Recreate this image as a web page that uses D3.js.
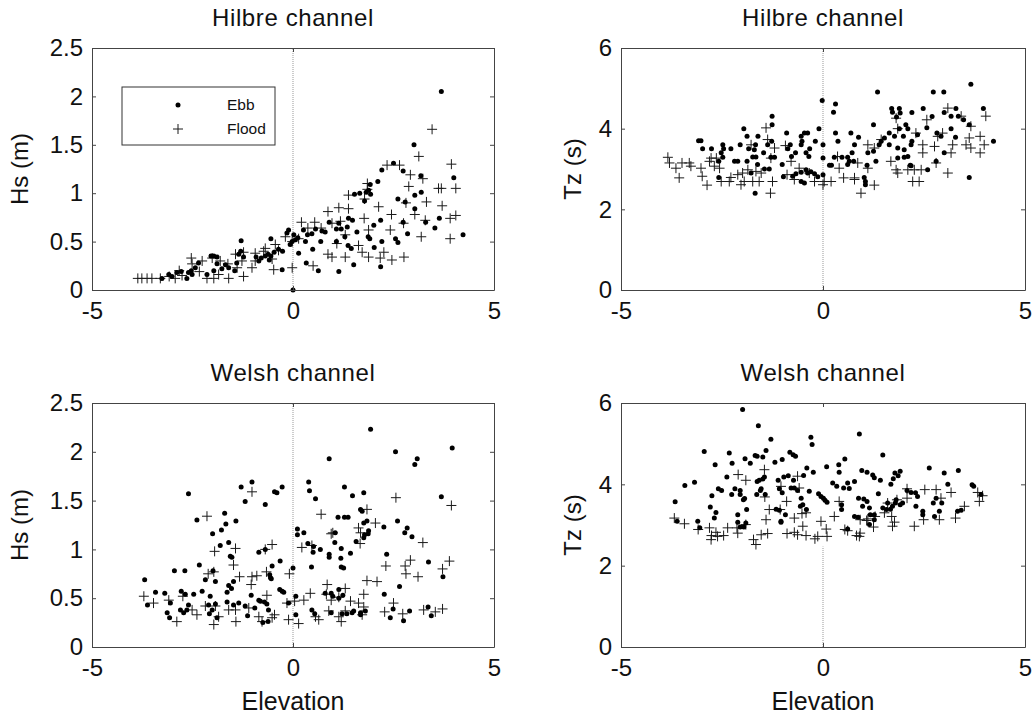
<html>
<head>
<meta charset="utf-8">
<script src="https://d3js.org/d3.v7.min.js"></script>
<style>
  body { margin: 0; background: #fff; }
  text { font-family: "Liberation Sans", Arial, sans-serif; fill: #111; }
</style>
</head>
<body>
<svg id="chart" width="1036" height="719"></svg>
<script>
// axis ticks and texts
const xTicks = [-5, 0, 5];
const hsTicks = [0, 0.5, 1, 1.5, 2, 2.5];
const tzTicks = [0, 2, 4, 6];
const titles = ["Hilbre channel", "Hilbre channel", "Welsh channel", "Welsh channel"];
const yLabels = ["Hs (m)", "Tz (s)", "Hs (m)", "Tz (s)"];
const xLabel = "Elevation";
const legendLabels = ["Ebb", "Flood"];

// [elevation, value]
const hilbreHsEbb = [
  [3.69,2.05],[3.01,1.50],[2.50,1.31],[2.21,1.24],[2.74,1.23],[3.18,1.18],[4.00,1.16],[2.11,1.12],
  [1.92,1.09],[1.88,1.03],[1.82,1.01],[1.93,0.99],[1.78,0.92],[1.66,1.00],[1.53,0.99],
  [3.03,0.98],[3.19,1.01],[2.61,0.94],[2.79,0.91],[3.03,0.84],[3.64,0.74],[3.53,0.64],[3.30,0.70],
  [2.85,0.58],[2.74,0.70],[2.55,0.53],[2.61,0.49],[4.23,0.57],[2.18,0.72],[2.21,0.50],[2.01,0.67],
  [1.87,0.55],[1.91,0.53],[2.02,0.44],[2.18,0.24],
  [1.48,0.72],[1.38,0.74],[1.59,0.60],[1.35,0.65],[1.29,0.55],[1.45,0.43],[1.37,0.46],[1.14,0.69],
  [1.08,0.63],[1.20,0.63],[1.08,0.50],[0.90,0.70],[0.80,0.60],[0.72,0.61],[0.69,0.50],[0.49,0.42],
  [0.31,0.50],[0.26,0.62],[0.36,0.57],[0.47,0.58],[0.56,0.63],[0.14,0.38],[0.33,0.28],[0.63,0.20],
  [1.14,0.19],[1.51,0.26],
  [-0.11,0.62],[-0.15,0.59],[-0.02,0.50],[0.02,0.57],[0.06,0.52],[0.12,0.54],[-0.07,0.47],
  [-0.26,0.40],[-0.36,0.42],[-0.47,0.39],[-0.55,0.35],[-0.59,0.31],[-0.69,0.35],[-0.62,0.37],
  [-0.79,0.33],[-0.85,0.30],[-0.92,0.34],[-0.55,0.53],[-1.29,0.51],
  [-1.30,0.40],[-1.35,0.37],[-1.23,0.34],[-1.40,0.28],[-1.45,0.20],[-1.60,0.23],[-1.68,0.26],
  [-1.77,0.22],[-1.89,0.27],[-1.97,0.20],[-2.04,0.35],[-1.97,0.35],[-1.89,0.34],
  [-2.35,0.28],[-2.43,0.23],[-2.53,0.20],[-2.60,0.18],[-2.51,0.16],[-2.64,0.12],[-2.78,0.19],
  [-2.89,0.18],[-3.01,0.14],[-3.09,0.16],[-3.26,0.12],[0.00,0.00],[-0.27,0.21],[-2.14,0.16]
];
const hilbreHsFlood = [
  [3.46,1.66],[3.13,1.38],[3.94,1.30],[2.34,1.29],[2.65,1.29],[2.92,1.19],[3.23,1.15],[2.88,1.07],
  [3.62,1.05],[4.05,1.05],[3.69,1.05],[1.85,1.10],[1.85,1.04],[1.38,0.98],[1.78,0.94],[1.14,0.85],
  [1.38,0.84],[0.87,0.81],[2.13,0.86],[2.45,0.78],[3.32,0.91],[3.71,0.87],[2.81,0.90],[3.03,0.78],
  [3.91,0.74],[4.05,0.77],[3.29,0.72],[2.75,0.69],[2.42,0.62],[3.19,0.55],[3.91,0.53],
  [0.21,0.70],[0.54,0.70],[0.37,0.64],[0.70,0.64],[1.18,0.71],[0.97,0.69],[1.77,0.74],[1.30,0.57],
  [1.88,0.62],[1.09,0.48],[1.63,0.46],
  [1.30,0.34],[0.97,0.34],[0.87,0.37],[1.88,0.34],[2.17,0.33],[2.46,0.31],[2.76,0.34],[1.72,0.39],
  [2.26,0.39],[0.50,0.25],[-0.02,0.23],
  [-0.02,0.50],[0.14,0.53],[-0.19,0.55],[-0.44,0.47],[-0.69,0.43],[-0.73,0.40],[-0.94,0.38],
  [-1.23,0.39],[-0.36,0.41],[-0.52,0.32],[-0.48,0.21],
  [-0.94,0.30],[-1.02,0.23],[-1.23,0.14],[-1.27,0.30],[-1.62,0.27],[-1.85,0.16],[-1.97,0.12],
  [-2.14,0.12],[-2.26,0.30],[-2.53,0.33],[-2.51,0.27],[-2.01,0.33],[-1.81,0.30],[-1.60,0.12],
  [-2.76,0.15],[-2.83,0.20],[-2.93,0.12],[-3.08,0.14],[-3.30,0.12],[-3.51,0.12],[-3.63,0.12],
  [-3.76,0.12],[-3.86,0.12],[-1.43,0.37],[-1.39,0.23],[-2.33,0.19]
];

const hilbreTzEbb = [
  [3.66,5.10],[1.35,4.91],[2.73,4.91],[2.99,4.91],[-0.02,4.70],[0.31,4.61],[0.26,4.41],
  [1.70,4.50],[1.89,4.50],[1.72,4.41],[1.91,4.39],[1.82,4.29],[2.20,4.40],[2.48,4.50],[3.29,4.50],
  [3.00,4.40],[3.97,4.50],[3.17,4.31],[3.35,4.31],[3.48,4.22],[3.62,4.10],[2.70,4.30],[2.57,4.02],
  [2.05,4.10],[1.89,4.00],[2.10,4.00],[1.25,4.10],[-1.26,4.31],[-1.26,4.10],[-1.96,4.00],[-0.10,4.00],
  [-0.90,3.89],[-0.54,3.81],[-0.46,3.89],[-0.38,3.89],[0.31,3.89],[0.69,3.89],[0.88,3.79],[0.00,3.60],
  [0.37,3.69],[-3.08,3.70],[-3.02,3.70],[-2.98,3.50],[-2.76,3.50],[-2.48,3.60],[-2.46,3.50],[-2.28,3.50],
  [-2.05,3.60],[-1.88,3.81],[-1.84,3.50],[-1.61,3.81],[-1.67,3.60],[-1.70,3.48],[-1.47,3.40],[-1.37,3.60],
  [-1.27,3.69],[-0.81,3.60],[-0.87,3.50],[-0.54,3.60],[-0.52,3.69],[-0.33,3.50],[-0.19,3.69],
  [-2.19,3.19],[-2.11,3.19],[-1.88,3.19],[-1.74,3.30],[-1.66,3.30],[-2.52,3.40],[-2.58,3.19],[-2.48,3.29],
  [-2.58,2.79],[-1.29,3.29],[-1.20,3.29],[-1.01,3.11],[-0.78,3.31],[-0.68,3.40],[-0.42,3.40],[-0.35,3.31],
  [-1.45,3.00],[-1.33,3.00],[-1.62,3.11],[-1.78,2.90],[-1.68,2.40],
  [-0.98,2.81],[-0.75,2.82],[-0.67,2.88],[-0.54,2.92],[-0.42,2.98],[-0.38,2.90],[-0.30,2.93],[-0.21,2.88],
  [-0.13,2.81],[-0.54,2.69],[-0.46,2.65],[0.00,2.86],[0.00,3.27],
  [0.16,3.09],[0.21,3.09],[0.28,3.29],[0.47,3.29],[0.61,3.29],[0.65,3.19],[0.72,3.40],[0.78,3.60],
  [0.76,3.19],[0.61,3.11],[1.09,3.09],[1.05,2.69],[1.05,2.61],[1.02,2.79],
  [1.11,3.40],[1.25,3.44],[1.31,3.19],[1.39,3.60],[1.44,3.69],[1.52,3.77],[1.64,3.89],[1.77,3.81],
  [1.99,3.81],[1.64,3.60],[1.85,3.52],[2.01,3.48],[2.18,3.60],[2.01,3.29],[1.85,3.27],[2.18,3.08],
  [2.10,3.31],[2.16,3.09],[2.20,3.69],[2.34,3.85],[2.59,2.98],[2.80,3.19],[2.82,3.89],[2.92,3.81],
  [3.17,4.00],[3.28,3.79],[3.00,3.40],[3.62,2.79],[4.22,3.69]
];
const hilbreTzFlood = [
  [-3.84,3.29],[-3.80,3.15],[-3.64,3.02],[-3.49,3.15],[-3.56,2.78],[-3.31,3.15],[-3.27,3.07],
  [-2.99,2.82],[-2.87,2.60],[-3.02,3.02],[-2.81,3.19],[-2.77,3.27],[-2.64,3.27],[-2.56,3.02],[-2.69,3.07],
  [-2.52,2.69],[-2.32,2.69],[-2.28,2.79],[-2.03,2.61],[-1.95,2.69],[-1.74,2.69],[-1.58,2.69],[-1.25,2.69],
  [-2.11,2.86],[-1.99,2.90],[-1.86,2.98],[-1.66,2.94],[-1.53,2.90],
  [-1.41,4.02],[-1.37,3.73],[-1.20,3.52],[-1.29,3.27],[-1.78,3.60],[-1.30,2.40],[-0.93,3.58],
  [-0.79,3.19],[-0.59,3.02],[-0.34,2.90],[-0.71,2.74],[-0.21,2.69],[0.03,2.69],[0.20,2.69],[0.00,2.61],
  [-0.89,2.86],
  [0.36,3.31],[0.40,3.02],[0.51,2.78],[0.78,2.78],[0.94,2.40],[0.78,2.74],[0.86,3.15],[1.27,2.60],
  [1.11,3.02],
  [1.11,3.60],[1.27,3.52],[1.44,3.73],[1.68,3.19],[1.81,2.98],[1.85,2.90],[2.10,2.98],[2.26,2.98],
  [2.43,2.98],[2.22,2.69],[2.38,2.69],[1.81,4.26],[1.85,4.00],[2.30,3.89],
  [2.47,3.60],[2.47,3.40],[2.76,3.56],[2.80,3.15],[2.84,3.81],[2.96,3.89],
  [3.09,4.51],[3.42,4.31],[3.54,3.60],[3.66,4.06],[3.89,3.81],[4.03,4.31],[3.89,3.40],[3.66,3.52],
  [3.99,3.60],[3.21,3.60],[3.17,3.40],[3.09,2.90],[3.62,3.77],[2.57,4.22]
];

const welshHsEbb = [
  [1.93,2.23],[3.96,2.04],[2.55,2.00],[3.09,1.93],[3.03,1.87],[0.90,1.93],[-2.60,1.57],
  [-1.29,1.64],[-1.02,1.69],[-1.19,1.49],[-0.69,1.46],[-0.46,1.59],[-0.40,1.58],[-0.27,1.64],
  [0.39,1.69],[0.41,1.60],[0.56,1.52],[1.28,1.64],[1.48,1.55],[1.76,1.58],[3.69,1.54],
  [-2.39,1.30],[-1.70,1.37],[-1.78,1.20],[-1.67,1.26],[-2.00,1.16],[-1.81,1.04],[-1.42,1.29],
  [-1.60,1.07],[-1.56,0.93],[-1.52,0.92],[-0.85,0.97],[-0.69,1.00],[-0.32,0.88],[0.00,0.81],
  [0.11,1.21],[0.11,1.15],[0.27,1.17],[0.37,1.06],[0.51,1.03],[0.50,0.97],[0.68,1.00],[0.46,0.82],
  [0.90,0.95],[0.90,0.92],[1.05,1.17],[1.04,1.07],[1.20,1.01],[1.19,0.91],[1.43,0.96],
  [1.12,1.33],[1.28,1.33],[1.37,1.33],
  [1.68,1.41],[1.72,1.39],[1.76,1.27],[1.84,1.29],[1.88,1.19],[1.78,1.15],[1.87,1.16],[1.76,1.12],
  [1.57,1.08],[2.26,1.23],[2.60,1.29],[2.84,1.22],[2.78,1.17],[2.96,1.13],[2.33,0.95],[3.37,0.87],
  [3.73,0.72],[2.65,0.62],[2.27,0.54],[1.26,0.81],[1.20,0.82],
  [-3.69,0.69],[-3.62,0.43],[-3.42,0.56],[-3.19,0.55],[-3.05,0.45],[-3.13,0.35],[-3.07,0.30],
  [-2.95,0.78],[-2.69,0.78],[-2.33,0.84],[-1.99,0.78],[-2.18,0.69],[-1.93,0.67],
  [-2.78,0.57],[-2.68,0.54],[-2.80,0.38],[-2.72,0.35],[-2.64,0.38],[-2.47,0.54],[-2.60,0.43],[-2.26,0.57],
  [-2.06,0.52],[-2.10,0.43],[-2.01,0.38],[-1.93,0.44],[-2.08,0.34],[-1.89,0.30],[-1.64,0.56],[-1.60,0.63],
  [-1.48,0.67],[-1.53,0.60],[-1.64,0.46],[-1.48,0.43],
  [-1.35,0.45],[-1.13,0.32],[-1.19,0.42],[-1.04,0.53],[-0.95,0.40],[-0.85,0.48],[-0.81,0.47],[-0.71,0.46],
  [-0.65,0.44],[-0.61,0.38],[-0.62,0.26],[-0.75,0.25],[-0.56,0.71],[-0.52,0.83],[-0.58,0.74],[-0.54,0.70],
  [-0.33,0.59],[-0.27,0.57],[-0.23,0.56],[0.07,0.52],[0.07,0.33],[-0.11,0.45],
  [0.47,0.38],[0.54,0.34],[0.80,0.55],[0.95,0.55],[0.99,0.52],[0.95,0.35],[1.22,0.34],[1.34,0.34],
  [1.47,0.35],[1.51,0.37],[1.68,0.35],[1.80,0.37],[1.68,0.33],
  [2.42,0.30],[2.49,0.39],[2.75,0.27],[2.90,0.37],[3.36,0.41],[3.44,0.32],
  [1.14,0.50],[1.24,0.53],[1.14,0.59]
];
const welshHsFlood = [
  [-2.14,1.34],[-1.95,0.98],[-1.43,1.01],[-1.48,0.84],[-2.11,0.75],[-1.97,0.77],[-1.33,0.72],[-1.04,0.64],
  [-1.02,0.72],[-0.90,0.73],[-0.66,0.77],[-0.69,1.00],[-0.52,1.05],[-0.09,0.75],[0.22,1.02],[0.47,1.04],
  [0.70,1.36],[0.95,1.16],[0.99,1.17],[1.63,1.22],[1.68,1.17],[1.67,1.06],[1.84,1.41],[2.05,1.27],
  [2.56,1.53],[3.23,1.07],[3.94,1.45],[3.89,0.88],[3.72,0.80],[2.92,0.89],[2.79,0.83],[2.81,0.75],
  [3.11,0.72],[2.31,0.83],[2.09,0.67],[1.84,0.68],[1.76,0.54],[0.85,0.64],[0.83,0.54],[0.95,0.48],
  [1.30,0.60],[1.14,0.51],[-1.02,1.59],
  [-3.71,0.52],[-3.47,0.45],[-3.09,0.48],[-2.89,0.26],[-2.74,0.52],[-2.51,0.38],[-2.39,0.33],[-2.18,0.42],
  [-1.93,0.42],[-1.97,0.23],[-1.85,0.31],[-1.60,0.38],[-1.43,0.38],[-1.42,0.26],[-1.10,0.40],[-0.65,0.53],
  [-0.46,0.33],[-0.77,0.26],[-0.85,0.31],[-0.52,0.30],[-0.11,0.28],[-0.15,0.45],[0.04,0.47],[0.14,0.24],
  [0.27,0.48],[0.43,0.55],[0.56,0.31],[0.64,0.28],[0.89,0.37],[1.14,0.31],[1.20,0.26],[1.30,0.37],
  [1.43,0.47],[1.63,0.45],[1.72,0.33],[1.76,0.41],[2.28,0.36],[2.50,0.45],[2.73,0.34],[3.25,0.38],
  [3.54,0.36],[3.72,0.39]
];

const welshTzEbb = [
  [-1.99,5.84],[-1.60,5.44],[0.90,5.24],[-0.30,5.16],[-0.27,4.98],[-1.29,5.11],
  [-2.94,4.81],[-2.32,4.77],[-2.67,4.48],[-2.25,4.52],[-1.93,4.63],[-1.80,4.52],[-1.68,4.71],[-1.63,4.69],
  [-1.41,4.83],[-1.49,4.67],[-1.19,4.54],[-1.01,4.61],[-0.82,4.79],[-0.74,4.73],[-0.68,4.69],[1.48,4.72],
  [0.54,4.62],[0.39,4.48],[0.40,4.30],[0.09,4.43],[-0.40,4.40],[-0.24,4.30],[-0.97,4.18],[-0.86,4.21],
  [-0.73,4.10],[-0.48,4.22],
  [0.96,4.34],[1.09,4.30],[1.23,4.23],[1.27,4.16],[1.42,4.10],[1.68,4.00],[1.74,4.14],[1.78,4.28],
  [1.91,4.32],[1.86,4.21],[2.63,4.40],[3.00,4.28],[3.35,4.34],
  [-3.42,3.97],[-3.18,4.05],[-3.66,3.57],[-2.75,3.72],[-2.79,3.44],[-2.59,3.89],[-2.51,3.85],[-2.38,4.18],
  [-2.26,3.75],[-2.18,3.89],[-2.05,3.85],[-2.05,3.75],[-1.97,3.62],[-1.94,3.65],[-1.89,3.38],[-2.11,3.25],
  [-2.11,3.07],[-2.05,2.95],
  [-1.63,4.07],[-1.58,4.10],[-1.49,4.13],[-1.45,4.18],[-1.53,3.89],[-1.55,3.85],[-1.64,3.75],[-1.43,3.75],
  [-1.11,4.10],[-1.08,3.89],[-1.01,3.79],[-1.16,3.39],[-1.08,3.36],[-0.93,3.25],[-1.04,3.07],
  [-0.79,3.91],[-0.71,3.91],[-0.63,3.85],[-0.54,3.66],[-0.50,3.50],[-0.56,3.46],[-0.41,3.38],[-0.34,3.83],
  [-0.11,3.77],[-0.05,3.70],[0.01,3.66],[0.05,3.61],[0.10,3.56],[0.24,4.03],[0.34,3.95],[0.51,3.91],
  [0.61,4.03],[0.65,3.90],[0.78,4.07],
  [0.88,3.66],[1.01,3.64],[1.09,3.58],[0.98,3.46],[1.15,3.42],[1.27,3.25],[1.37,3.77],[1.48,3.42],
  [1.57,3.38],[1.67,3.39],[1.72,3.46],[1.60,3.54],[1.81,3.62],[1.79,3.54],[1.91,3.50],[1.97,3.54],
  [2.08,3.85],[2.18,3.80],[2.29,3.79],[2.34,3.70],[2.30,3.46],
  [2.47,3.25],[2.73,3.54],[2.80,3.66],[2.94,3.54],[2.88,3.34],[2.76,3.21],
  [3.09,4.00],[3.33,3.34],[3.42,3.36],[3.69,3.99],[3.73,3.95],[3.91,3.75],
  [-3.61,3.09],[-3.10,3.09],[-3.05,2.93],[-2.65,3.31],[-2.69,3.17],[-1.91,3.05],[-1.96,2.95],[-1.04,3.09],
  [0.46,3.50],[0.46,3.38],[0.78,3.21],[0.87,3.19],[1.15,3.01],[1.17,3.25],[1.27,3.13],[2.47,3.34],[0.61,2.90]
];
const welshTzFlood = [
  [-3.68,3.17],[-3.43,3.03],[-3.09,2.89],[-2.81,2.93],[-2.76,2.74],[-2.65,2.82],[-2.61,2.72],[-2.77,2.64],
  [-2.46,2.74],[-2.36,2.93],[-2.11,2.80],[-1.91,3.01],[-2.13,2.93],[-1.72,2.64],[-1.66,2.52],[-1.53,2.76],
  [-1.37,2.79],[-1.41,3.13],[-1.33,3.38],[-1.44,3.69],[-1.45,4.36],[-1.91,4.10],[-2.10,4.24],[-0.89,2.79],
  [-1.06,3.38],[-0.71,2.82],[-0.63,2.76],[-0.50,2.97],[-0.42,2.74],[-0.71,3.17],[-0.52,3.28],[-0.42,3.30],
  [-0.90,3.58],[-1.04,3.95],[-0.63,4.20],[-0.59,3.91],[-0.13,2.72],[-0.20,2.66],[-0.05,3.09],[0.08,2.90],
  [0.10,2.72],[0.28,3.21],[0.40,3.58],[0.54,2.89],[0.61,2.86],[0.83,2.74],[0.90,2.72],[0.92,2.80],
  [0.92,3.13],[1.08,3.11],[1.11,3.15],[1.25,2.95],[1.29,3.21],[1.52,3.30],[1.60,3.54],[1.70,3.21],
  [1.77,3.07],[1.72,2.97],[1.83,3.62],[2.08,3.89],[2.26,2.97],[2.52,3.87],[2.49,3.13],[2.88,3.13],
  [2.92,3.66],[3.17,3.80],[3.28,3.17],[3.50,3.46],[3.87,3.58],[3.83,3.80],[3.95,3.72],[2.80,3.87],
  [2.08,3.66]
];

const svg = d3.select("#chart");
const boxes = [
  {x: 92, y: 48, w: 402, h: 242},
  {x: 621, y: 48, w: 404, h: 242},
  {x: 92, y: 403, w: 402, h: 244},
  {x: 621, y: 403, w: 404, h: 244}
];
const panels = [
  {ebb: hilbreHsEbb, flood: hilbreHsFlood, yDomain: [0, 2.5], yTicks: hsTicks, zero: [0, 2.5], labelOff: -64},
  {ebb: hilbreTzEbb, flood: hilbreTzFlood, yDomain: [0, 6], yTicks: tzTicks, zero: [0, 6], labelOff: -40},
  {ebb: welshHsEbb, flood: welshHsFlood, yDomain: [0, 2.5], yTicks: hsTicks, zero: [0, 2.5], labelOff: -64},
  {ebb: welshTzEbb, flood: welshTzFlood, yDomain: [0, 6], yTicks: tzTicks, zero: [0, 2.47], labelOff: -40}
];

const plus = (cx, cy, s) => `M${cx - s},${cy}h${2 * s}M${cx},${cy - s}v${2 * s}`;

function styleAxis(g) {
  g.selectAll(".domain").attr("stroke", "#444");
  g.selectAll(".tick line").attr("stroke", "#444");
  g.selectAll(".tick text").attr("font-size", 24).attr("fill", "#111")
    .attr("font-family", '"Liberation Sans", Arial, sans-serif');
}

panels.forEach((p, i) => {
  const b = boxes[i];
  const g = svg.append("g").attr("transform", `translate(${b.x},${b.y})`);
  const x = d3.scaleLinear().domain([-5, 5]).range([0, b.w]);
  const y = d3.scaleLinear().domain(p.yDomain).range([b.h, 0]);

  g.append("line")
    .attr("x1", x(0)).attr("x2", x(0))
    .attr("y1", y(p.zero[0])).attr("y2", y(p.zero[1]))
    .attr("stroke", "#999").attr("stroke-width", 1).attr("stroke-dasharray", "1,1");

  g.selectAll("path.flood").data(p.flood).join("path")
    .attr("class", "flood")
    .attr("d", d => plus(x(d[0]), y(d[1]), 5))
    .attr("stroke", "#1a1a1a").attr("stroke-width", 1).attr("fill", "none");

  g.selectAll("circle.ebb").data(p.ebb).join("circle")
    .attr("class", "ebb")
    .attr("cx", d => x(d[0])).attr("cy", d => y(d[1]))
    .attr("r", 2.5).attr("fill", "#000");

  g.append("g").attr("transform", `translate(0,${b.h})`)
    .call(d3.axisBottom(x).tickValues(xTicks).tickFormat(String)
      .tickSizeInner(-4).tickSizeOuter(0).tickPadding(12))
    .call(styleAxis);
  g.append("g")
    .call(d3.axisTop(x).tickValues(xTicks).tickFormat("")
      .tickSizeInner(-4).tickSizeOuter(0))
    .call(styleAxis);
  g.append("g")
    .call(d3.axisLeft(y).tickValues(p.yTicks).tickFormat(String)
      .tickSizeInner(-4).tickSizeOuter(0).tickPadding(9))
    .call(styleAxis);
  g.append("g").attr("transform", `translate(${b.w},0)`)
    .call(d3.axisRight(y).tickValues(p.yTicks).tickFormat("")
      .tickSizeInner(-4).tickSizeOuter(0))
    .call(styleAxis);

  g.append("text")
    .attr("x", b.w / 2).attr("y", -22)
    .attr("text-anchor", "middle").attr("font-size", 24)
    .attr("letter-spacing", 0.6)
    .text(titles[i]);

  g.append("text")
    .attr("transform", `translate(${p.labelOff},${b.h / 2}) rotate(-90)`)
    .attr("text-anchor", "middle").attr("font-size", 24)
    .text(yLabels[i]);

  if (i >= 2) {
    g.append("text")
      .attr("x", b.w / 2).attr("y", b.h + 63)
      .attr("text-anchor", "middle").attr("font-size", 25)
      .text(xLabel);
  }

  if (i === 0) {
    const lg = g.append("g").attr("transform", "translate(30,39)");
    lg.append("rect").attr("width", 153).attr("height", 58)
      .attr("fill", "#fff").attr("stroke", "#333").attr("stroke-width", 1);
    lg.append("circle").attr("cx", 56).attr("cy", 18).attr("r", 2.5).attr("fill", "#000");
    lg.append("path").attr("d", plus(56, 42, 5)).attr("stroke", "#1a1a1a").attr("fill", "none");
    legendLabels.forEach((t, k) => {
      lg.append("text").attr("x", 105).attr("y", 18 + k * 24)
        .attr("dy", "0.35em").attr("font-size", 15.5).text(t);
    });
  }
});
</script>
</body>
</html>
